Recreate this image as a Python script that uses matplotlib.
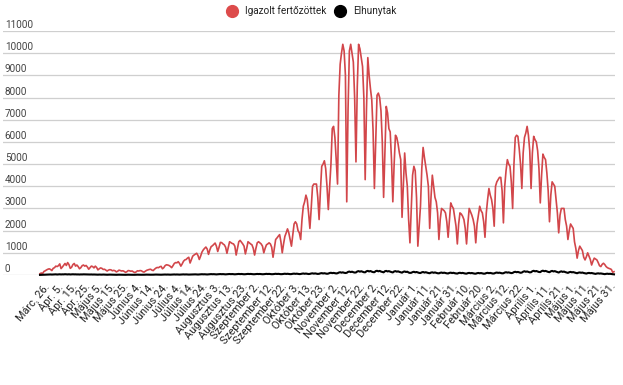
import matplotlib
matplotlib.use("Agg")
import matplotlib.pyplot as plt
from matplotlib.lines import Line2D
import matplotlib.transforms as mtransforms

plt.rcParams['font.family'] = ['Roboto', 'DejaVu Sans']

# daily confirmed cases (Igazolt fertőzöttek)
cases = [
    60, 90,
    70, 160, 190, 230, 260, 280, 250,
    200, 300, 330, 400, 380, 420, 500,
    290, 360, 440, 520, 430, 560, 470,
    300, 350, 470, 520, 400, 450, 380,
    280, 330, 420, 450, 400, 430, 360,
    260, 330, 400, 380, 320, 400, 340,
    230, 280, 320, 300, 250, 260, 220,
    180, 220, 240, 230, 190, 210, 190,
    140, 170, 220, 200, 180, 190, 160,
    120, 150, 200, 190, 170, 180, 140,
    110, 140, 190, 180, 200, 190, 150,
    130, 170, 210, 230, 250, 260, 220,
    200, 260, 310, 340, 330, 370, 390,
    280, 330, 420, 460, 450, 430, 390,
    330, 420, 520, 560, 550, 600, 520,
    400, 500, 620, 680, 700, 760, 800,
    540, 700, 850, 900, 940, 980, 880,
    700, 850, 1030, 1130, 1200, 1260, 1170,
    930, 1130, 1280, 1320, 1380, 1440, 1300,
    1060, 1250, 1470, 1460, 1400, 1360, 1250,
    980, 1250, 1500, 1460, 1420, 1400, 1300,
    900, 1200, 1500, 1560, 1480, 1400, 1300,
    950, 1200, 1500, 1450, 1400, 1360, 1200,
    900, 1200, 1450, 1500, 1450, 1400, 1300,
    1000, 1200, 1360, 1400, 1450, 1400, 1250,
    800, 1200, 1600, 1670, 1750, 1820, 1500,
    1000, 1400, 1740, 1900, 2080, 1900, 1600,
    1300, 1800, 2300, 2400, 2300, 2000, 1900,
    1600, 2500, 3100, 3300, 3600, 3400, 2800,
    2100, 3000, 4000, 4100, 4100, 4100, 3500,
    2500, 3800, 4900, 5000, 5150, 4800, 4000,
    2950, 4000, 5000, 6600, 6700, 6200, 5200,
    4100, 8100, 9500, 10000, 10400, 10100, 9000,
    3300, 7500, 10100, 10400, 10000, 9600, 8000,
    5100, 8500, 10400, 10200, 9800, 9400, 8000,
    4300, 7500, 9800, 9000, 8400, 7900, 6500,
    3900, 6000, 8100, 8200, 8000, 7400, 6000,
    3500, 5500, 7600, 7300, 6600, 6450, 5200,
    3300, 5000, 6300, 6200, 5900, 5500, 5200,
    2600, 4000, 5500, 4600, 4000, 2500, 1450,
    3000, 4500, 4900, 4700, 3500, 1300, 2200,
    3100, 4800, 5750, 5300, 4900, 4500, 4000,
    2100, 3500, 4500, 4000, 3500, 3300, 2800,
    1600, 2500, 3000, 2950, 2900, 2800, 2400,
    1700, 2500, 3250, 3100, 3000, 2600, 2200,
    1400, 2300, 2800, 2750, 2650, 2500, 2100,
    1400, 2300, 3000, 2850, 2700, 2500, 2200,
    1450, 2300, 2700, 3100, 2900, 2800, 2400,
    1700, 2800, 3400, 3900, 3600, 3400, 3000,
    2200, 4000, 4200, 4300, 4400, 4400, 3800,
    2350, 4000, 4700, 5200, 5000, 4900, 4200,
    3000, 5000, 6200, 6300, 6250, 5700, 5000,
    3900, 5500, 6200, 6400, 6700, 6300, 5600,
    3900, 5500, 6250, 6100, 6000, 5600, 4800,
    3250, 4500, 5450, 5300, 5200, 4600, 3800,
    2400, 3600, 4200, 4100, 4000, 3400, 2800,
    1900, 2700, 3000, 3000, 3000, 2500, 2200,
    1600, 2000, 2300, 2200, 2100, 1500, 1200,
    760, 1100, 1300, 1200, 1100, 800, 680,
    820, 1000, 850, 700, 450, 620, 760,
    720, 680, 560, 420, 380, 480, 530,
    470, 380, 330, 300, 280, 250, 120,
    150,
]

# daily deaths (Elhunytak)
deaths = [
    5, 8,
    10, 12, 15, 20, 18, 22, 25,
    20, 25, 28, 30, 22, 26, 32,
    25, 30, 28, 35, 30, 26, 33,
    24, 30, 33, 28, 30, 25, 27,
    22, 27, 25, 30, 28, 24, 20,
    18, 22, 25, 20, 23, 19, 17,
    15, 20, 18, 16, 21, 17, 14,
    12, 16, 18, 14, 15, 13, 11,
    10, 14, 15, 12, 13, 11, 9,
    9, 12, 14, 11, 13, 10, 8,
    10, 13, 15, 12, 14, 11, 9,
    12, 15, 17, 14, 16, 13, 11,
    14, 18, 20, 17, 19, 16, 13,
    16, 20, 22, 18, 21, 17, 15,
    18, 22, 25, 20, 24, 19, 17,
    20, 25, 28, 23, 27, 22, 19,
    22, 28, 30, 26, 29, 24, 21,
    25, 32, 35, 30, 33, 28, 24,
    28, 35, 40, 34, 38, 32, 27,
    30, 38, 42, 36, 40, 34, 29,
    32, 40, 45, 38, 43, 36, 31,
    34, 42, 48, 40, 46, 38, 33,
    36, 45, 50, 43, 48, 40, 35,
    35, 44, 48, 42, 47, 39, 34,
    37, 46, 52, 44, 50, 41, 36,
    38, 48, 55, 46, 52, 43, 37,
    40, 50, 58, 48, 55, 45, 39,
    42, 55, 62, 52, 60, 48, 41,
    45, 60, 68, 56, 65, 52, 44,
    50, 68, 75, 62, 72, 58, 48,
    55, 75, 85, 70, 80, 65, 55,
    65, 90, 100, 85, 95, 80, 70,
    80, 110, 125, 105, 120, 100, 90,
    100, 140, 155, 130, 150, 125, 110,
    115, 160, 175, 150, 170, 145, 125,
    120, 170, 185, 160, 180, 150, 130,
    125, 175, 190, 165, 185, 155, 135,
    120, 170, 185, 160, 175, 150, 130,
    115, 160, 175, 150, 165, 140, 125,
    105, 145, 160, 135, 150, 110, 95,
    100, 130, 145, 120, 135, 115, 95,
    90, 120, 135, 110, 125, 105, 90,
    80, 110, 120, 100, 115, 95, 80,
    75, 100, 110, 92, 105, 88, 75,
    70, 95, 105, 88, 100, 82, 70,
    65, 90, 100, 84, 95, 78, 66,
    62, 85, 95, 80, 90, 74, 63,
    60, 82, 92, 78, 88, 72, 60,
    62, 88, 98, 84, 94, 78, 66,
    70, 98, 110, 95, 105, 88, 75,
    80, 110, 125, 108, 118, 100, 85,
    95, 130, 145, 125, 138, 118, 100,
    110, 150, 170, 145, 160, 138, 118,
    125, 170, 190, 165, 180, 155, 135,
    130, 175, 195, 170, 185, 160, 140,
    125, 165, 185, 160, 175, 150, 130,
    110, 145, 165, 140, 155, 130, 115,
    95, 125, 140, 120, 130, 110, 95,
    80, 105, 115, 100, 110, 90, 78,
    65, 85, 95, 82, 90, 74, 62,
    50, 68, 75, 64, 70, 58, 48,
    38, 52, 58, 48, 54, 44, 36,
    30,
]

tick_labels = [
    "Márc. 26.", "Ápr. 5.", "Ápr. 15.", "Ápr. 25.", "Május 5.", "Május 15.",
    "Május 25.", "Június 4.", "Június 14.", "Június 24.", "Július 4.",
    "Július 14.", "Július 24.", "Augusztus 3.", "Augusztus 13.",
    "Augusztus 23.", "Szeptember 2.", "Szeptember 12.", "Szeptember 22.",
    "Október 3.", "Október 13.", "Október 23.", "November 2.",
    "November 12.", "November 22.", "December 2.", "December 12.",
    "December 22.", "Január 1.", "Január 11.", "Január 21.", "Január 31.",
    "Február 10.", "Február 20.", "Március 2.", "Március 12.",
    "Március 22.", "Április 1.", "Április 11.", "Április 21.", "Május 1.",
    "Május 11.", "Május 21.", "Május 31.",
]

y_ticks = list(range(0, 11001, 1000))

series_names = ["Igazolt fertőzöttek", "Elhunytak"]
RED = "#d2464a"
BLACK = "#000000"

n = len(cases)
x = list(range(n))
first_label = n - 1 - 10 * (len(tick_labels) - 1)
tick_pos = [first_label + 10 * k for k in range(len(tick_labels))]

W, H = 623, 385
fig = plt.figure(figsize=(W / 100, H / 100), dpi=100)
left_px, right_px = 3, 615
top_px, bottom_px = 31, 275
ax = fig.add_axes([left_px / W, 1 - bottom_px / H,
                   (right_px - left_px) / W, (bottom_px - top_px) / H])

# x mapping: first point at px 40, last at px 614
ppd = (614 - 40) / (n - 1)
ax.set_xlim(-(40 - left_px) / ppd, (n - 1) + (right_px - 614) / ppd)
ax.set_ylim(0, 11000)

for yv in y_ticks:
    ax.axhline(yv, color="#cfcfcf", lw=0.9, zorder=0)

ax.plot(x, cases, color=RED, lw=1.2, zorder=3, solid_joinstyle="round")
ax.plot(x, deaths, color=BLACK, lw=1.5, zorder=4, clip_on=False,
        solid_joinstyle="round")

for s in ax.spines.values():
    s.set_visible(False)
ax.set_yticks([])
ax.set_xticks(tick_pos)
ax.set_xticklabels(tick_labels, rotation=50, ha="right", va="center",
                   rotation_mode="anchor", fontsize=7.8, color="#222222")
ax.tick_params(axis="x", length=0, pad=7)

trans = mtransforms.offset_copy(ax.get_yaxis_transform(), fig=fig,
                                x=0, y=3, units="dots")
for yv in y_ticks:
    ax.text(0.003, yv, str(yv), transform=trans, ha="left", va="baseline",
            fontsize=7.2, color="#444444")

handles = [
    Line2D([], [], marker="o", linestyle="none", markersize=8.5,
           markerfacecolor="#dd4b4b", markeredgecolor="#dd4b4b"),
    Line2D([], [], marker="o", linestyle="none", markersize=8.5,
           markerfacecolor=BLACK, markeredgecolor=BLACK),
]
fig.legend(handles, series_names, loc="center", bbox_to_anchor=(0.5, 1 - 11 / H),
           ncol=2, frameon=False, fontsize=7.2, handletextpad=0.8,
           columnspacing=0.9, handlelength=1.0, labelcolor="#222222")

fig.savefig("out.png", dpi=100)
